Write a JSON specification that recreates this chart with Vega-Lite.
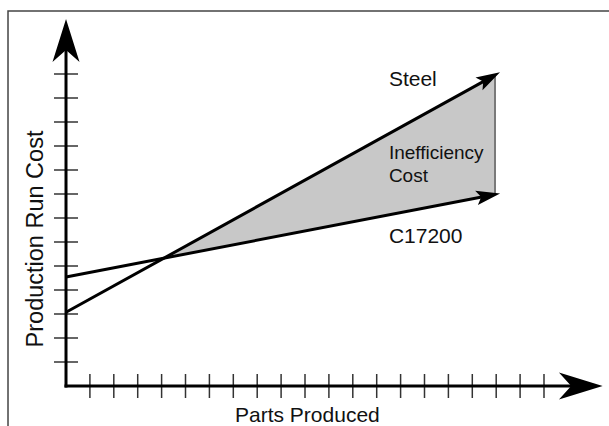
{
  "$schema": "https://vega.github.io/schema/vega-lite/v6.json",
  "width": 609,
  "height": 426,
  "autosize": {"type": "none"},
  "padding": 0,
  "config": {"view": {"stroke": null}},
  "datasets": {
    "border": [{"x": -2.427, "x2": 23.5, "y": 15.625, "y2": -2.5}],
    "shade": [{"x": 4.10, "y": 5.328, "y2": 5.328}, {"x": 17.95, "y": 12.955, "y2": 7.99}],
    "edge": [{"x": 17.95, "y": 12.955, "y2": 7.99}],
    "axes": [{"x": 0, "y": 0, "x2": 0, "y2": 14.1}, {"x": 0, "y": 0, "x2": 21.1, "y2": 0}],
    "xticks": [{"x":1,"y":0},{"x":2,"y":0},{"x":3,"y":0},{"x":4,"y":0},{"x":5,"y":0},{"x":6,"y":0},{"x":7,"y":0},{"x":8,"y":0},{"x":9,"y":0},{"x":10,"y":0},{"x":11,"y":0},{"x":12,"y":0},{"x":13,"y":0},{"x":14,"y":0},{"x":15,"y":0},{"x":16,"y":0},{"x":17,"y":0},{"x":18,"y":0},{"x":19,"y":0},{"x":20,"y":0}],
    "yticks": [{"x":0,"y":1},{"x":0,"y":2},{"x":0,"y":3},{"x":0,"y":4},{"x":0,"y":5},{"x":0,"y":6},{"x":0,"y":7},{"x":0,"y":8},{"x":0,"y":9},{"x":0,"y":10},{"x":0,"y":11},{"x":0,"y":12},{"x":0,"y":13}],
    "lines": [
      {"series": "Steel", "x": 0, "y": 3.07}, {"series": "Steel", "x": 17.72, "y": 12.83},
      {"series": "C17200", "x": 0, "y": 4.54}, {"series": "C17200", "x": 17.67, "y": 7.93}
    ],
    "labels": [
      {"label": "Steel", "x": 13.51, "y": 12.5},
      {"label": "C17200", "x": 13.51, "y": 5.97}
    ],
    "inner": [
      {"label": "Inefficiency", "x": 13.51, "y": 9.446},
      {"label": "Cost", "x": 13.51, "y": 8.51}
    ]
  },
  "encoding": {
    "x": {"field": "x", "type": "quantitative", "axis": null, "scale": {"domain": [-2.762, 22.72], "nice": false, "zero": false}},
    "y": {"field": "y", "type": "quantitative", "axis": null, "scale": {"domain": [-1.667, 16.083], "nice": false, "zero": false}}
  },
  "layer": [
    {
      "data": {"name": "border"},
      "mark": {"type": "rect", "fillOpacity": 0, "stroke": "#444444", "strokeWidth": 1.5, "clip": true},
      "encoding": {"x2": {"field": "x2"}, "y2": {"field": "y2"}}
    },
    {
      "data": {"name": "shade"},
      "mark": {"type": "area", "color": "#c8c8c8", "opacity": 1},
      "encoding": {"y2": {"field": "y2"}}
    },
    {
      "data": {"name": "edge"},
      "mark": {"type": "rule", "color": "#7a7a7a", "strokeWidth": 2},
      "encoding": {"y2": {"field": "y2"}}
    },
    {
      "data": {"name": "xticks"},
      "mark": {"type": "tick", "orient": "vertical", "size": 24, "thickness": 1.5, "color": "#333333", "opacity": 1}
    },
    {
      "data": {"name": "yticks"},
      "mark": {"type": "tick", "orient": "horizontal", "size": 24, "thickness": 1.5, "color": "#333333", "opacity": 1}
    },
    {
      "data": {"name": "axes"},
      "mark": {"type": "rule", "color": "#000000", "strokeWidth": 3, "strokeCap": "square"},
      "encoding": {"x2": {"field": "x2"}, "y2": {"field": "y2"}}
    },
    {
      "data": {"name": "lines"},
      "mark": {"type": "line", "color": "#000000", "strokeWidth": 3},
      "encoding": {"detail": {"field": "series", "type": "nominal"}}
    },
    {
      "data": {"values": [{"x": 0, "y": 14.396}]},
      "mark": {"type": "point", "shape": "M0,-1L0.628,1L0,0.44L-0.628,1Z", "size": 1849, "filled": true, "color": "#000000", "opacity": 1, "strokeWidth": 0}
    },
    {
      "data": {"values": [{"x": 21.54, "y": 0}]},
      "mark": {"type": "point", "shape": "M1,0L-1,-0.618L-0.44,0L-1,0.618Z", "size": 1910, "filled": true, "color": "#000000", "opacity": 1, "strokeWidth": 0}
    },
    {
      "data": {"values": [{"x": 17.72, "y": 12.83}]},
      "mark": {"type": "point", "shape": "M1,0L-1,-0.6L-0.6,0L-1,0.6Z", "size": 576, "angle": 331, "filled": true, "color": "#000000", "opacity": 1, "strokeWidth": 0}
    },
    {
      "data": {"values": [{"x": 17.67, "y": 7.93}]},
      "mark": {"type": "point", "shape": "M1,0L-1,-0.6L-0.6,0L-1,0.6Z", "size": 576, "angle": 349.1, "filled": true, "color": "#000000", "opacity": 1, "strokeWidth": 0}
    },
    {
      "data": {"name": "labels"},
      "mark": {"type": "text", "align": "left", "baseline": "alphabetic", "font": "Liberation Sans", "fontSize": 21, "color": "#111111"},
      "encoding": {"text": {"field": "label"}}
    },
    {
      "data": {"name": "inner"},
      "mark": {"type": "text", "align": "left", "baseline": "alphabetic", "font": "Liberation Sans", "fontSize": 19, "color": "#111111"},
      "encoding": {"text": {"field": "label"}}
    },
    {
      "data": {"values": [{"label": "Parts Produced", "x": 10.1, "y": -1.4875}]},
      "mark": {"type": "text", "align": "center", "baseline": "alphabetic", "font": "Liberation Sans", "fontSize": 21, "color": "#111111"},
      "encoding": {"text": {"field": "label"}}
    },
    {
      "data": {"values": [{"label": "Production Run Cost", "x": -0.962, "y": 6.125}]},
      "mark": {"type": "text", "align": "center", "baseline": "alphabetic", "angle": 270, "font": "Liberation Sans", "fontSize": 23.5, "color": "#111111"},
      "encoding": {"text": {"field": "label"}}
    }
  ]
}
